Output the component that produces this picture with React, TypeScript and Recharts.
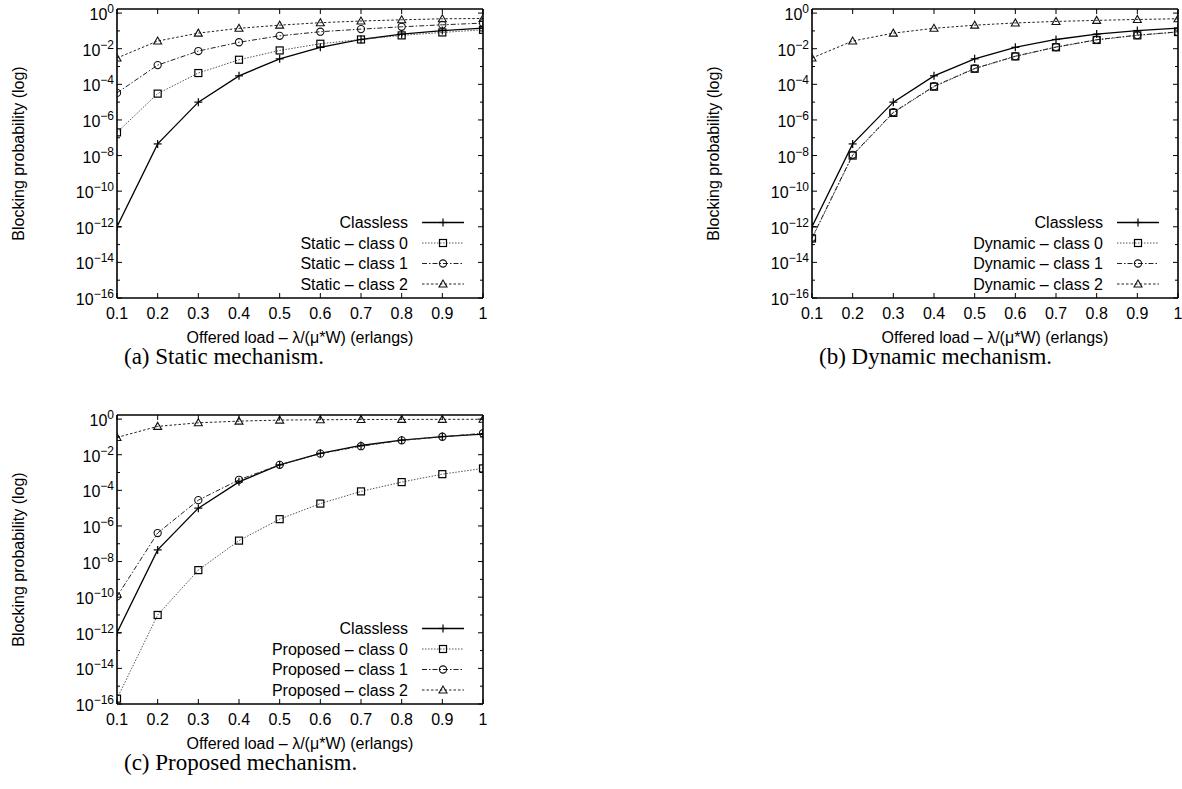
import React from 'react';
import { LineChart, Line, XAxis, YAxis } from 'recharts';

// offered load (x axis)
const loads = [0.1, 0.2, 0.3, 0.4, 0.5, 0.6, 0.7, 0.8, 0.9, 1.0];
const xTickLabels = ['0.1', '0.2', '0.3', '0.4', '0.5', '0.6', '0.7', '0.8', '0.9', '1'];
// y ticks are decades, labelled on even exponents only
const yExponents = [-16, -15, -14, -13, -12, -11, -10, -9, -8, -7, -6, -5, -4, -3, -2, -1, 0];

// blocking probabilities
const classless = [1e-12, 4.5e-8, 1e-5, 3e-4, 2.7e-3, 1.2e-2, 3.3e-2, 6.6e-2, 0.105, 0.145];

const staticClass0 = [2e-7, 3e-5, 4.3e-4, 2.4e-3, 8e-3, 1.9e-2, 3.3e-2, 5.6e-2, 8.2e-2, 0.115];
const staticClass1 = [3.3e-5, 1.2e-3, 7.4e-3, 2.3e-2, 5.3e-2, 9e-2, 0.126, 0.17, 0.22, 0.275];
const staticClass2 = [3e-3, 2.7e-2, 7.5e-2, 0.14, 0.21, 0.29, 0.36, 0.42, 0.48, 0.5];

const dynamicClass0 = [2.2e-13, 1e-8, 2.5e-6, 7.4e-5, 7.5e-4, 3.7e-3, 1.2e-2, 3.1e-2, 5.6e-2, 8.6e-2];
const dynamicClass1 = [2.4e-13, 1.1e-8, 2.7e-6, 7.8e-5, 7.8e-4, 3.8e-3, 1.25e-2, 3.2e-2, 5.8e-2, 8.8e-2];
const dynamicClass2 = [3e-3, 2.7e-2, 7.5e-2, 0.14, 0.21, 0.28, 0.34, 0.39, 0.44, 0.48];

const proposedClass0 = [2e-16, 1e-11, 3.3e-9, 1.5e-7, 2.4e-6, 1.8e-5, 8.7e-5, 2.9e-4, 8.1e-4, 1.7e-3];
const proposedClass1 = [1.1e-10, 4e-7, 2.8e-5, 3.9e-4, 2.7e-3, 1.15e-2, 3e-2, 6.4e-2, 0.102, 0.16];
const proposedClass2 = [0.093, 0.39, 0.62, 0.77, 0.88, 0.92, 0.95, 0.96, 0.97, 0.98];

const SANS = '"Liberation Sans", Arial, Helvetica, sans-serif';
const SERIF = '"Liberation Serif", "Times New Roman", serif';
const FS = 16;

const Y_DOMAIN = [1e-16, 1.7];

// geometry inside one panel box
const BOX_W = 500;
const BOX_H = 390;
const AX_L = 117;
const AX_T = 9;
const PLOT_W = 366;
const PLOT_H = 289;

type MarkerKind = 'plus' | 'square' | 'circle' | 'triangle';

const STYLES: { stroke: string; dash?: string; width: number; marker: MarkerKind }[] = [
    { stroke: '#000', width: 1.3, marker: 'plus' },
    { stroke: '#555', dash: '1.5 1.5', width: 1, marker: 'square' },
    { stroke: '#222', dash: '5 2 1.5 2', width: 1, marker: 'circle' },
    { stroke: '#222', dash: '2.5 2', width: 1, marker: 'triangle' },
];

const Marker: React.FC<{ kind: MarkerKind; x: number; y: number }> = ({ kind, x, y }) => {
    if (kind === 'plus') {
        return (
            <g stroke="#000" strokeWidth={1.2}>
                <line x1={x - 4} x2={x + 4} y1={y} y2={y} />
                <line x1={x} x2={x} y1={y - 4} y2={y + 4} />
            </g>
        );
    }
    if (kind === 'square') {
        return <rect x={x - 3.5} y={y - 3.5} width={7} height={7} fill="none" stroke="#000" strokeWidth={1.2} />;
    }
    if (kind === 'circle') {
        return <circle cx={x} cy={y} r={3.6} fill="none" stroke="#111" strokeWidth={1.1} />;
    }
    return (
        <polygon
            points={`${x},${y - 4} ${x - 4},${y + 3} ${x + 4},${y + 3}`}
            fill="none" stroke="#111" strokeWidth={1.1}
        />
    );
};

const dotRenderer = (kind: MarkerKind) => (props: any) => {
    const { cx, cy, index } = props;
    if (cx == null || cy == null) return <g key={`d-${index}`} />;
    return <Marker key={`d-${index}`} kind={kind} x={cx} y={cy} />;
};

const YTickLeft = (props: any) => {
    const { x, y, payload } = props;
    const e = Math.round(Math.log10(payload.value));
    const major = e % 2 === 0;
    return (
        <g>
            <line x1={x} x2={x + (major ? 5 : 3)} y1={y} y2={y} stroke="#000" strokeWidth={1} />
            {major && (
                <text x={x - 3} y={y + 7} textAnchor="end" fontFamily={SANS} fontSize={FS} fill="#000">
                    10<tspan dy={-7} fontSize={12}>{e < 0 ? `\u2212${-e}` : `${e}`}</tspan>
                </text>
            )}
        </g>
    );
};

const YTickRight = (props: any) => {
    const { x, y, payload } = props;
    const e = Math.round(Math.log10(payload.value));
    const major = e % 2 === 0;
    return <line x1={x} x2={x - (major ? 5 : 3)} y1={y} y2={y} stroke="#000" strokeWidth={1} />;
};

const XTickBottom = (props: any) => {
    const { x, y, payload, index } = props;
    return (
        <g>
            <line x1={x} x2={x} y1={y} y2={y - 5} stroke="#000" strokeWidth={1} />
            <text x={x} y={y + 21} textAnchor="middle" fontFamily={SANS} fontSize={FS} fill="#000">
                {xTickLabels[index] ?? String(payload.value)}
            </text>
        </g>
    );
};

const XTickTop = (props: any) => {
    const { x, y } = props;
    return <line x1={x} x2={x} y1={y} y2={y + 5} stroke="#000" strokeWidth={1} />;
};

type PanelProps = {
    left: number;
    top: number;
    caption: string;
    names: string[];
    series: number[][];
};

const Panel: React.FC<PanelProps> = ({ left, top, caption, names, series }) => {
    const data = loads.map((load, i) => {
        const row: { [k: string]: number } = { load };
        series.forEach((s, j) => { row[`s${j}`] = s[i]; });
        return row;
    });
    const yTicks = yExponents.map(e => Math.pow(10, e));
    const axisLine = { stroke: '#000', strokeWidth: 1.6 };

    const legendTop = 222.5;
    const legendStep = 20.5;
    const textEnd = AX_L + 291;
    const sampleX1 = AX_L + 305;
    const sampleX2 = AX_L + 347;

    return (
        <div style={{ position: 'absolute', left, top, width: BOX_W, height: BOX_H }}>
            <LineChart width={BOX_W} height={BOX_H} data={data} margin={{ top: 0, right: 0, bottom: 0, left: 0 }}>
                <XAxis
                    dataKey="load" type="number" domain={[0.1, 1]} ticks={loads} allowDataOverflow
                    height={BOX_H - AX_T - PLOT_H} tickSize={0} tickMargin={0} tickLine={false}
                    interval={0} axisLine={axisLine} tick={<XTickBottom />}
                />
                <XAxis
                    xAxisId="top" orientation="top" dataKey="load" type="number" domain={[0.1, 1]} ticks={loads}
                    allowDataOverflow height={AX_T} tickSize={0} tickMargin={0} tickLine={false}
                    interval={0} axisLine={axisLine} tick={<XTickTop />}
                />
                <YAxis
                    type="number" scale="log" domain={Y_DOMAIN} ticks={yTicks} allowDataOverflow
                    width={AX_L} tickSize={0} tickMargin={0} tickLine={false} interval={0}
                    axisLine={axisLine} tick={<YTickLeft />}
                />
                <YAxis
                    yAxisId="right" orientation="right" type="number" scale="log" domain={Y_DOMAIN} ticks={yTicks}
                    allowDataOverflow width={BOX_W - AX_L - PLOT_W} tickSize={0} tickMargin={0} tickLine={false}
                    interval={0} axisLine={axisLine} tick={<YTickRight />}
                />
                {series.map((_, j) => (
                    <Line
                        key={j}
                        type="linear"
                        dataKey={`s${j}`}
                        stroke={STYLES[j].stroke}
                        strokeWidth={STYLES[j].width}
                        strokeDasharray={STYLES[j].dash}
                        dot={dotRenderer(STYLES[j].marker)}
                        activeDot={false}
                        isAnimationActive={false}
                    />
                ))}
            </LineChart>
            <svg width={BOX_W} height={BOX_H} style={{ position: 'absolute', left: 0, top: 0, pointerEvents: 'none', overflow: 'visible' }}>
                <text
                    transform={`translate(${AX_L - 99}, ${AX_T + PLOT_H / 2}) rotate(-90)`}
                    textAnchor="middle" dominantBaseline="central" fontFamily={SANS} fontSize={FS} fill="#000"
                >
                    Blocking probability (log)
                </text>
                <text x={AX_L + PLOT_W / 2} y={343} textAnchor="middle" fontFamily={SANS} fontSize={FS} fill="#000">
                    Offered load – λ/(μ*W) (erlangs)
                </text>
                <text x={AX_L + 7} y={364} textAnchor="start" fontFamily={SERIF} fontSize={23} fill="#000">
                    {caption}
                </text>
                {names.map((name, j) => {
                    const cy = legendTop + j * legendStep;
                    return (
                        <g key={name}>
                            <text x={textEnd} y={cy + 5.5} textAnchor="end" fontFamily={SANS} fontSize={FS} fill="#000">{name}</text>
                            <line
                                x1={sampleX1} x2={sampleX2} y1={cy} y2={cy}
                                stroke={STYLES[j].stroke} strokeWidth={STYLES[j].width} strokeDasharray={STYLES[j].dash}
                            />
                            <Marker kind={STYLES[j].marker} x={(sampleX1 + sampleX2) / 2} y={cy} />
                        </g>
                    );
                })}
            </svg>
        </div>
    );
};

const App: React.FC = () => {
    return (
        <div style={{ position: 'absolute', left: 0, top: 0, width: 1182, height: 789, background: '#fff', overflow: 'hidden' }}>
            <Panel
                left={0} top={0} caption="(a)  Static mechanism."
                names={['Classless', 'Static – class 0', 'Static – class 1', 'Static – class 2']}
                series={[classless, staticClass0, staticClass1, staticClass2]}
            />
            <Panel
                left={812 - AX_L} top={0} caption="(b)  Dynamic mechanism."
                names={['Classless', 'Dynamic – class 0', 'Dynamic – class 1', 'Dynamic – class 2']}
                series={[classless, dynamicClass0, dynamicClass1, dynamicClass2]}
            />
            <Panel
                left={0} top={415 - AX_T} caption="(c)  Proposed mechanism."
                names={['Classless', 'Proposed – class 0', 'Proposed – class 1', 'Proposed – class 2']}
                series={[classless, proposedClass0, proposedClass1, proposedClass2]}
            />
        </div>
    );
};

export default App;
